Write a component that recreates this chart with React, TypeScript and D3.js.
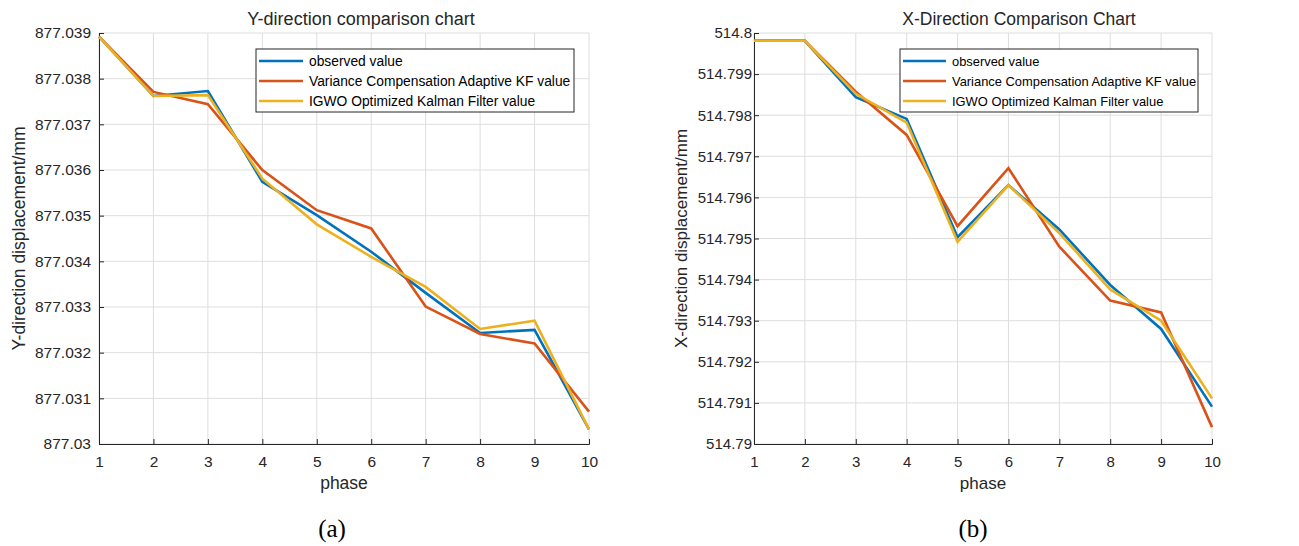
import React, { useRef, useEffect } from "react";
import * as d3 from "d3";

const phases = [1, 2, 3, 4, 5, 6, 7, 8, 9, 10];
const seriesNames = [
  "observed value",
  "Variance Compensation Adaptive KF value",
  "IGWO Optimized Kalman Filter value"
];
const seriesColors = ["#0072BD", "#D95319", "#EDB120"];

// Y-direction (a)
const yObserved = [877.03892, 877.03762, 877.03773, 877.03574, 877.03501, 877.03421, 877.03331, 877.03243, 877.0325, 877.03032];
const yVariance = [877.03892, 877.03771, 877.03744, 877.0360, 877.03512, 877.03472, 877.03301, 877.03241, 877.0322, 877.03071];
const yIgwo = [877.03892, 877.03762, 877.03764, 877.03581, 877.03481, 877.0341, 877.03344, 877.03252, 877.0327, 877.03032];
const yTicks = [877.03, 877.031, 877.032, 877.033, 877.034, 877.035, 877.036, 877.037, 877.038, 877.039];

// X-direction (b)
const xObserved = [514.79981, 514.79981, 514.79844, 514.79791, 514.79503, 514.7963, 514.79522, 514.79387, 514.7928, 514.79091];
const xVariance = [514.79981, 514.79981, 514.79857, 514.79752, 514.7953, 514.79671, 514.7948, 514.79349, 514.7932, 514.79041];
const xIgwo = [514.79981, 514.79981, 514.79852, 514.79782, 514.79492, 514.7963, 514.79513, 514.79376, 514.793, 514.79111];
const xTicks = [514.79, 514.791, 514.792, 514.793, 514.794, 514.795, 514.796, 514.797, 514.798, 514.799, 514.8];

const fmt = (v) => String(+v.toFixed(3));

function Panel({ cfg }) {
  const gRef = useRef();
  useEffect(() => {
    const g = d3.select(gRef.current);
    g.selectAll("*").remove();
    const x = d3.scaleLinear().domain([1, 10]).range([cfg.x0, cfg.x1]);
    const y = d3.scaleLinear().domain(cfg.yDomain).range([444, 33]);

    // grid
    g.append("g")
      .selectAll("line")
      .data(phases)
      .join("line")
      .attr("x1", (d) => x(d)).attr("x2", (d) => x(d))
      .attr("y1", 33).attr("y2", 444)
      .attr("stroke", "#dedede").attr("stroke-width", 1);
    g.append("g")
      .selectAll("line")
      .data(cfg.ticks)
      .join("line")
      .attr("x1", cfg.x0).attr("x2", cfg.x1)
      .attr("y1", (d) => y(d)).attr("y2", (d) => y(d))
      .attr("stroke", "#dedede").attr("stroke-width", 1);

    // axes (matlab style, ticks inward)
    const xAxis = d3.axisBottom(x).tickValues(phases).tickSize(-5).tickPadding(12).tickFormat(d3.format("d"));
    const yAxis = d3.axisLeft(y).tickValues(cfg.ticks).tickSize(-5).tickPadding(cfg.yPad).tickFormat(fmt);
    const xa = g.append("g").attr("transform", "translate(0,444)").call(xAxis);
    const ya = g.append("g").attr("transform", `translate(${cfg.x0},0)`).call(yAxis);
    [xa, ya].forEach((a) => {
      a.select(".domain").attr("stroke", "#262626");
      a.selectAll(".tick line").attr("stroke", "#262626");
      a.selectAll("text")
        .attr("fill", "#262626")
        .style("font-family", "Liberation Sans, Arial, sans-serif")
        .style("font-size", cfg.tickFont + "px");
    });

    // lines
    const ln = d3.line().x((d, i) => x(phases[i])).y((d) => y(d));
    g.append("g")
      .selectAll("path")
      .data(cfg.series)
      .join("path")
      .attr("d", (d) => ln(d))
      .attr("fill", "none")
      .attr("stroke", (d, i) => seriesColors[i])
      .attr("stroke-width", 2.6)
      .attr("stroke-linejoin", "miter");

    // legend
    const lg = g.append("g");
    lg.append("rect")
      .attr("x", cfg.legX).attr("y", 49)
      .attr("width", cfg.legW).attr("height", 63)
      .attr("fill", "white").attr("stroke", "#262626").attr("stroke-width", 1);
    seriesNames.forEach((name, i) => {
      const ry = 61 + i * 20;
      lg.append("line")
        .attr("x1", cfg.legX + 3).attr("x2", cfg.legX + 3 + cfg.legLine)
        .attr("y1", ry).attr("y2", ry)
        .attr("stroke", seriesColors[i]).attr("stroke-width", 2.6);
      lg.append("text")
        .attr("x", cfg.legX + 9 + cfg.legLine).attr("y", ry)
        .attr("dy", "0.35em")
        .attr("fill", "#000")
        .style("font-family", "Liberation Sans, Arial, sans-serif")
        .style("font-size", cfg.legFont + "px")
        .text(name);
    });

    // titles / labels
    const txt = (xx, yy, s, size, extra) => {
      const t = g.append("text")
        .attr("x", xx).attr("y", yy)
        .attr("text-anchor", "middle")
        .attr("fill", "#262626")
        .style("font-family", "Liberation Sans, Arial, sans-serif")
        .style("font-size", size + "px")
        .text(s);
      if (extra) extra(t);
    };
    txt(cfg.titleX, 25, cfg.title, cfg.titleFont);
    txt((cfg.x0 + cfg.x1) / 2, 489, "phase", cfg.labelFont);
    txt(0, 0, cfg.yLabel, cfg.labelFont, (t) =>
      t.attr("transform", `translate(${cfg.yLabelX},${(33 + 444) / 2}) rotate(-90)`)
    );
    g.append("text")
      .attr("x", cfg.capX).attr("y", 537)
      .attr("text-anchor", "middle")
      .attr("fill", "#000")
      .style("font-family", "Liberation Serif, Times New Roman, serif")
      .style("font-size", "25px")
      .text(cfg.caption);
  }, [cfg]);
  return <g ref={gRef} />;
}

const panelA = {
  x0: 99, x1: 589, yDomain: [877.03, 877.039], ticks: yTicks,
  series: [yObserved, yVariance, yIgwo],
  tickFont: 15.5, yPad: 8, legX: 256, legW: 318, legLine: 44, legFont: 13.8,
  title: "Y-direction comparison chart", titleX: 361, titleFont: 18,
  yLabel: "Y-direction displacement/mm", yLabelX: 25, labelFont: 17.5,
  caption: "(a)", capX: 332
};
const panelB = {
  x0: 754, x1: 1212, yDomain: [514.79, 514.8], ticks: xTicks,
  series: [xObserved, xVariance, xIgwo],
  tickFont: 15, yPad: 2, legX: 900, legW: 298, legLine: 43, legFont: 12.9,
  title: "X-Direction Comparison Chart", titleX: 1019, titleFont: 17.5,
  yLabel: "X-direction displacement/mm", yLabelX: 687, labelFont: 17,
  caption: "(b)", capX: 973
};

export default function App() {
  return (
    <svg width={1299} height={546} style={{ position: "absolute", left: 0, top: 0, background: "white" }}>
      <rect width={1299} height={546} fill="white" />
      <Panel cfg={panelA} />
      <Panel cfg={panelB} />
    </svg>
  );
}
